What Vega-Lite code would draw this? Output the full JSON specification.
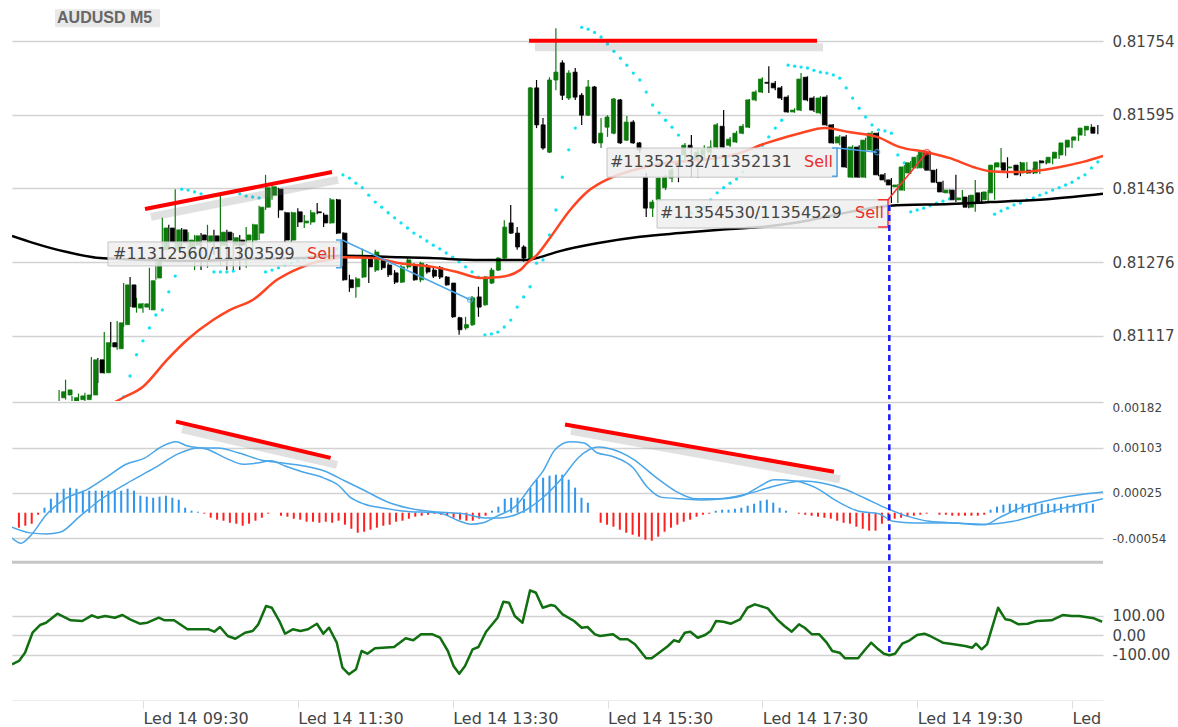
{
"$schema":"https://vega.github.io/schema/vega-lite/v6.json",
"background":"white",
"padding":{"left":12,"top":0,"right":0,"bottom":0},
"spacing":0,
"config":{"view":{"stroke":null},"font":"DejaVu Sans","axis":{"labelFont":"DejaVu Sans","labelColor":"#444444","gridColor":"#d2d2d2","gridWidth":1.5,"domain":false,"ticks":false}},
"datasets":{
"candles":[
{"m":505,"o":0.80983,"h":0.81,"l":0.80976,"c":0.80996},{"m":510,"o":0.80989,"h":0.81022,"l":0.80979,"c":0.81},{"m":515,"o":0.80974,"h":0.80987,"l":0.8097,"c":0.80983},{"m":520,"o":0.80979,"h":0.80992,"l":0.80972,"c":0.80987},{"m":525,"o":0.80979,"h":0.80994,"l":0.80974,"c":0.80989},{"m":530,"o":0.80989,"h":0.81071,"l":0.80985,"c":0.81065},{"m":535,"o":0.81065,"h":0.81069,"l":0.81015,"c":0.81037},{"m":540,"o":0.81037,"h":0.81125,"l":0.81035,"c":0.81102},{"m":545,"o":0.81102,"h":0.81147,"l":0.81093,"c":0.81093},{"m":550,"o":0.81089,"h":0.81149,"l":0.81087,"c":0.81145},
{"m":555,"o":0.81141,"h":0.81231,"l":0.81136,"c":0.81227},{"m":560,"o":0.81227,"h":0.81244,"l":0.81179,"c":0.81179},{"m":565,"o":0.81177,"h":0.81199,"l":0.81167,"c":0.81186},{"m":570,"o":0.81179,"h":0.81188,"l":0.81167,"c":0.81186},{"m":575,"o":0.81173,"h":0.81264,"l":0.81173,"c":0.81236},{"m":580,"o":0.81242,"h":0.81292,"l":0.81238,"c":0.81285},{"m":585,"o":0.81303,"h":0.81372,"l":0.81298,"c":0.8135},{"m":590,"o":0.8135,"h":0.81357,"l":0.81303,"c":0.8132},{"m":595,"o":0.81303,"h":0.81434,"l":0.81298,"c":0.81346},{"m":600,"o":0.81346,"h":0.8135,"l":0.81303,"c":0.81318},
{"m":605,"o":0.81307,"h":0.81341,"l":0.81285,"c":0.81324},{"m":610,"o":0.81313,"h":0.81335,"l":0.81259,"c":0.81333},{"m":615,"o":0.81335,"h":0.81339,"l":0.81259,"c":0.81324},{"m":620,"o":0.81318,"h":0.81357,"l":0.81264,"c":0.81333},{"m":625,"o":0.81333,"h":0.81346,"l":0.81292,"c":0.8132},{"m":630,"o":0.81313,"h":0.81419,"l":0.8127,"c":0.81341},{"m":635,"o":0.81341,"h":0.81346,"l":0.81259,"c":0.81324},{"m":640,"o":0.81313,"h":0.81339,"l":0.81259,"c":0.81329},{"m":645,"o":0.81324,"h":0.81335,"l":0.81259,"c":0.81313},{"m":650,"o":0.81324,"h":0.81352,"l":0.81264,"c":0.81335},
{"m":655,"o":0.81324,"h":0.81359,"l":0.81292,"c":0.81357},{"m":660,"o":0.81339,"h":0.81398,"l":0.81324,"c":0.81395},{"m":665,"o":0.81395,"h":0.81465,"l":0.81389,"c":0.81437},{"m":670,"o":0.81421,"h":0.81443,"l":0.81411,"c":0.81439},{"m":675,"o":0.81434,"h":0.81437,"l":0.81372,"c":0.81389},{"m":680,"o":0.81383,"h":0.81385,"l":0.8132,"c":0.81324},{"m":685,"o":0.81324,"h":0.81385,"l":0.8132,"c":0.81383},{"m":690,"o":0.81385,"h":0.81393,"l":0.81352,"c":0.81363},{"m":695,"o":0.81361,"h":0.81378,"l":0.8135,"c":0.81365},{"m":700,"o":0.81363,"h":0.81389,"l":0.81357,"c":0.81383},
{"m":705,"o":0.81385,"h":0.81404,"l":0.8138,"c":0.81383},{"m":710,"o":0.81378,"h":0.81383,"l":0.81352,"c":0.81361},{"m":715,"o":0.81361,"h":0.81415,"l":0.81359,"c":0.81411},{"m":720,"o":0.81411,"h":0.81413,"l":0.81337,"c":0.81339},{"m":725,"o":0.81339,"h":0.81341,"l":0.81236,"c":0.81238},{"m":730,"o":0.81238,"h":0.81249,"l":0.81212,"c":0.81221},{"m":735,"o":0.81223,"h":0.81244,"l":0.81199,"c":0.8124},{"m":740,"o":0.81244,"h":0.81305,"l":0.81242,"c":0.81285},{"m":745,"o":0.81285,"h":0.81287,"l":0.81231,"c":0.81266},{"m":750,"o":0.81259,"h":0.81303,"l":0.81255,"c":0.81298},
{"m":755,"o":0.81281,"h":0.81287,"l":0.81259,"c":0.81264},{"m":760,"o":0.8127,"h":0.81274,"l":0.81244,"c":0.81249},{"m":765,"o":0.81253,"h":0.81259,"l":0.81229,"c":0.81233},{"m":770,"o":0.81233,"h":0.8127,"l":0.81231,"c":0.81266},{"m":775,"o":0.81266,"h":0.81285,"l":0.81262,"c":0.81281},{"m":780,"o":0.8127,"h":0.81274,"l":0.81236,"c":0.81238},{"m":785,"o":0.81238,"h":0.81277,"l":0.81233,"c":0.81274},{"m":790,"o":0.81268,"h":0.81272,"l":0.81251,"c":0.81255},{"m":795,"o":0.81259,"h":0.81264,"l":0.81242,"c":0.81246},{"m":800,"o":0.81264,"h":0.81268,"l":0.8124,"c":0.81244},
{"m":805,"o":0.81244,"h":0.81246,"l":0.81225,"c":0.81227},{"m":810,"o":0.81231,"h":0.81231,"l":0.81156,"c":0.81158},{"m":815,"o":0.81156,"h":0.81158,"l":0.81119,"c":0.8113},{"m":820,"o":0.81134,"h":0.81158,"l":0.8113,"c":0.81141},{"m":825,"o":0.81141,"h":0.81203,"l":0.81138,"c":0.81199},{"m":830,"o":0.81201,"h":0.81223,"l":0.81158,"c":0.81179},{"m":835,"o":0.81184,"h":0.81246,"l":0.81182,"c":0.81244},{"m":840,"o":0.81231,"h":0.81264,"l":0.81229,"c":0.81259},{"m":845,"o":0.81259,"h":0.81287,"l":0.81257,"c":0.81285},{"m":850,"o":0.81285,"h":0.81367,"l":0.81283,"c":0.81352},
{"m":855,"o":0.81361,"h":0.814,"l":0.81337,"c":0.81339},{"m":860,"o":0.81339,"h":0.81352,"l":0.81303,"c":0.81309},{"m":865,"o":0.81309,"h":0.81313,"l":0.81277,"c":0.81285},{"m":870,"o":0.81281,"h":0.81655,"l":0.81279,"c":0.81653},{"m":875,"o":0.81653,"h":0.8167,"l":0.81566,"c":0.81573},{"m":880,"o":0.81573,"h":0.81588,"l":0.81519,"c":0.81523},{"m":885,"o":0.81514,"h":0.81676,"l":0.81512,"c":0.8167},{"m":890,"o":0.8167,"h":0.81782,"l":0.81648,"c":0.81687},{"m":895,"o":0.81707,"h":0.81713,"l":0.81627,"c":0.81637},{"m":900,"o":0.81631,"h":0.81691,"l":0.81627,"c":0.81685},
{"m":905,"o":0.81687,"h":0.81696,"l":0.81627,"c":0.81633},{"m":910,"o":0.81637,"h":0.81642,"l":0.81573,"c":0.81594},{"m":915,"o":0.81594,"h":0.8167,"l":0.81592,"c":0.81655},{"m":920,"o":0.81655,"h":0.81657,"l":0.81532,"c":0.81534},{"m":925,"o":0.81534,"h":0.81588,"l":0.81523,"c":0.81555},{"m":930,"o":0.81568,"h":0.81594,"l":0.81547,"c":0.8159},{"m":935,"o":0.81555,"h":0.81631,"l":0.81553,"c":0.81629},{"m":940,"o":0.81627,"h":0.81629,"l":0.81532,"c":0.81534},{"m":945,"o":0.8154,"h":0.81592,"l":0.81538,"c":0.81579},{"m":950,"o":0.81579,"h":0.81583,"l":0.81532,"c":0.81534},
{"m":955,"o":0.81534,"h":0.81536,"l":0.81512,"c":0.81519},{"m":960,"o":0.8146,"h":0.81469,"l":0.81374,"c":0.81393},{"m":965,"o":0.81393,"h":0.81411,"l":0.81374,"c":0.81406},{"m":970,"o":0.81411,"h":0.8146,"l":0.81408,"c":0.81458},{"m":975,"o":0.81437,"h":0.81465,"l":0.81432,"c":0.8146},{"m":980,"o":0.81458,"h":0.8148,"l":0.81449,"c":0.81475},{"m":985,"o":0.81491,"h":0.81497,"l":0.81449,"c":0.81486},{"m":990,"o":0.81508,"h":0.81534,"l":0.81493,"c":0.81529},{"m":995,"o":0.81529,"h":0.81551,"l":0.8146,"c":0.81523},{"m":1000,"o":0.81497,"h":0.81523,"l":0.81458,"c":0.81514},
{"m":1005,"o":0.81508,"h":0.81529,"l":0.81497,"c":0.81519},{"m":1010,"o":0.81514,"h":0.8154,"l":0.81508,"c":0.81525},{"m":1015,"o":0.81525,"h":0.81577,"l":0.81523,"c":0.81573},{"m":1020,"o":0.8157,"h":0.81605,"l":0.81523,"c":0.81525},{"m":1025,"o":0.81529,"h":0.81547,"l":0.81525,"c":0.81542},{"m":1030,"o":0.81536,"h":0.8156,"l":0.81534,"c":0.81555},{"m":1035,"o":0.81555,"h":0.81575,"l":0.81553,"c":0.8157},{"m":1040,"o":0.81568,"h":0.81629,"l":0.81566,"c":0.81627},{"m":1045,"o":0.81627,"h":0.81648,"l":0.81624,"c":0.81644},{"m":1050,"o":0.81644,"h":0.81676,"l":0.81642,"c":0.81672},
{"m":1055,"o":0.81665,"h":0.817,"l":0.81642,"c":0.81663},{"m":1060,"o":0.81663,"h":0.81668,"l":0.81648,"c":0.81653},{"m":1065,"o":0.81653,"h":0.81657,"l":0.81627,"c":0.81631},{"m":1070,"o":0.81633,"h":0.81637,"l":0.81599,"c":0.81601},{"m":1075,"o":0.81601,"h":0.81609,"l":0.81599,"c":0.81605},{"m":1080,"o":0.81605,"h":0.81685,"l":0.81603,"c":0.81672},{"m":1085,"o":0.81676,"h":0.81678,"l":0.81624,"c":0.81627},{"m":1090,"o":0.81631,"h":0.81635,"l":0.81601,"c":0.81605},{"m":1095,"o":0.81599,"h":0.81635,"l":0.81596,"c":0.81631},{"m":1100,"o":0.81633,"h":0.81637,"l":0.8157,"c":0.81573},
{"m":1105,"o":0.81573,"h":0.81575,"l":0.81532,"c":0.81534},{"m":1110,"o":0.81534,"h":0.81551,"l":0.81529,"c":0.81547},{"m":1115,"o":0.81547,"h":0.81551,"l":0.8148,"c":0.81482},{"m":1120,"o":0.8146,"h":0.81529,"l":0.81458,"c":0.81525},{"m":1125,"o":0.81525,"h":0.81529,"l":0.81458,"c":0.8146},{"m":1130,"o":0.8146,"h":0.81545,"l":0.81458,"c":0.8154},{"m":1135,"o":0.81519,"h":0.8156,"l":0.81516,"c":0.81555},{"m":1140,"o":0.81555,"h":0.81557,"l":0.81462,"c":0.81465},{"m":1145,"o":0.81465,"h":0.81469,"l":0.81449,"c":0.81454},{"m":1150,"o":0.81454,"h":0.81458,"l":0.81404,"c":0.81443},
{"m":1155,"o":0.81439,"h":0.81445,"l":0.81404,"c":0.81443},{"m":1160,"o":0.81432,"h":0.81486,"l":0.8143,"c":0.81482},{"m":1165,"o":0.81469,"h":0.81495,"l":0.81467,"c":0.81491},{"m":1170,"o":0.8148,"h":0.81508,"l":0.81478,"c":0.81503},{"m":1175,"o":0.8148,"h":0.81519,"l":0.81478,"c":0.81514},{"m":1180,"o":0.81514,"h":0.81516,"l":0.81473,"c":0.81475},{"m":1185,"o":0.81475,"h":0.81478,"l":0.81447,"c":0.81449},{"m":1190,"o":0.81449,"h":0.81452,"l":0.81426,"c":0.81428},{"m":1195,"o":0.81426,"h":0.81434,"l":0.81424,"c":0.81432},{"m":1200,"o":0.81432,"h":0.81465,"l":0.81406,"c":0.81411},
{"m":1205,"o":0.81411,"h":0.81432,"l":0.81402,"c":0.81415},{"m":1210,"o":0.81417,"h":0.81421,"l":0.81393,"c":0.81395},{"m":1215,"o":0.81395,"h":0.81454,"l":0.81385,"c":0.81421},{"m":1220,"o":0.81426,"h":0.81428,"l":0.81402,"c":0.81404},{"m":1225,"o":0.81411,"h":0.81432,"l":0.81408,"c":0.81428},{"m":1230,"o":0.81426,"h":0.81491,"l":0.81411,"c":0.81486},{"m":1235,"o":0.81482,"h":0.81523,"l":0.8148,"c":0.81491},{"m":1240,"o":0.81491,"h":0.81503,"l":0.81458,"c":0.81475},{"m":1245,"o":0.8148,"h":0.81486,"l":0.81475,"c":0.81482},{"m":1250,"o":0.81486,"h":0.81493,"l":0.81462,"c":0.81465},
{"m":1255,"o":0.81469,"h":0.81493,"l":0.81467,"c":0.81491},{"m":1260,"o":0.81475,"h":0.8148,"l":0.81467,"c":0.81469},{"m":1265,"o":0.81469,"h":0.81497,"l":0.81467,"c":0.81493},{"m":1270,"o":0.81495,"h":0.81497,"l":0.81488,"c":0.81491},{"m":1275,"o":0.81491,"h":0.81508,"l":0.81488,"c":0.81503},{"m":1280,"o":0.81501,"h":0.81519,"l":0.81499,"c":0.81514},{"m":1285,"o":0.81508,"h":0.81538,"l":0.81506,"c":0.81534},{"m":1290,"o":0.81525,"h":0.81545,"l":0.81523,"c":0.8154},{"m":1295,"o":0.8154,"h":0.81551,"l":0.81538,"c":0.81547},{"m":1300,"o":0.81551,"h":0.8157,"l":0.81549,"c":0.81566},
{"m":1305,"o":0.81562,"h":0.81575,"l":0.8156,"c":0.8157},{"m":1310,"o":0.81568,"h":0.81573,"l":0.81553,"c":0.81555}
],
"sar":[
{"m":555,"s":0.80985},{"m":560,"s":0.8103},{"m":565,"s":0.81076},{"m":570,"s":0.81106},{"m":575,"s":0.81134},{"m":580,"s":0.81162},{"m":585,"s":0.81173},{"m":590,"s":0.81212},{"m":595,"s":0.81246},
{"m":600,"s":0.81434},{"m":605,"s":0.81432},{"m":610,"s":0.81428},{"m":615,"s":0.81424},{"m":620,"s":0.81417},
{"m":625,"s":0.81255},{"m":630,"s":0.81255},{"m":635,"s":0.81255},{"m":640,"s":0.81257},
{"m":645,"s":0.81424},{"m":650,"s":0.81419},{"m":655,"s":0.81417},{"m":660,"s":0.81415},
{"m":665,"s":0.81255},{"m":670,"s":0.81259},{"m":675,"s":0.81264},{"m":680,"s":0.8127},{"m":685,"s":0.81274},{"m":690,"s":0.81279},{"m":695,"s":0.81283},{"m":700,"s":0.81287},{"m":705,"s":0.81292},{"m":710,"s":0.81296},{"m":715,"s":0.813},{"m":720,"s":0.81305},
{"m":725,"s":0.81465},{"m":730,"s":0.81458},{"m":735,"s":0.81447},{"m":740,"s":0.81437},{"m":745,"s":0.81421},{"m":750,"s":0.81406},{"m":755,"s":0.81395},{"m":760,"s":0.81383},{"m":765,"s":0.81372},{"m":770,"s":0.81361},{"m":775,"s":0.8135},{"m":780,"s":0.81339},{"m":785,"s":0.81331},{"m":790,"s":0.81322},{"m":795,"s":0.81313},{"m":800,"s":0.81305},{"m":805,"s":0.81296},{"m":810,"s":0.81287},{"m":815,"s":0.81277},{"m":820,"s":0.81266},{"m":825,"s":0.81255},{"m":830,"s":0.81244},
{"m":835,"s":0.81119},{"m":840,"s":0.81121},{"m":845,"s":0.81125},{"m":850,"s":0.81136},{"m":855,"s":0.81151},{"m":860,"s":0.81179},{"m":865,"s":0.81201},{"m":870,"s":0.81223},{"m":875,"s":0.81274},{"m":880,"s":0.81281},{"m":885,"s":0.81335},{"m":890,"s":0.81389},{"m":895,"s":0.8146},{"m":900,"s":0.81519},{"m":905,"s":0.81566},
{"m":910,"s":0.81784},{"m":915,"s":0.8178},{"m":920,"s":0.81773},{"m":925,"s":0.81763},{"m":930,"s":0.81748},{"m":935,"s":0.81732},{"m":940,"s":0.81717},{"m":945,"s":0.81702},{"m":950,"s":0.81685},{"m":955,"s":0.8167},{"m":960,"s":0.81644},{"m":965,"s":0.81616},{"m":970,"s":0.81599},{"m":975,"s":0.81583},{"m":980,"s":0.81568},{"m":985,"s":0.81551},
{"m":990,"s":0.81374},{"m":995,"s":0.81383},{"m":1000,"s":0.81389},{"m":1005,"s":0.81395},{"m":1010,"s":0.81411},{"m":1015,"s":0.81426},{"m":1020,"s":0.81437},{"m":1025,"s":0.81447},{"m":1030,"s":0.81456},{"m":1035,"s":0.81471},{"m":1040,"s":0.81491},{"m":1045,"s":0.81508},{"m":1050,"s":0.81529},{"m":1055,"s":0.81547},{"m":1060,"s":0.81566},{"m":1065,"s":0.81583},
{"m":1070,"s":0.81702},{"m":1075,"s":0.817},{"m":1080,"s":0.81698},{"m":1085,"s":0.81696},{"m":1090,"s":0.81691},{"m":1095,"s":0.81687},{"m":1100,"s":0.81685},{"m":1105,"s":0.81681},{"m":1110,"s":0.81674},{"m":1115,"s":0.81653},{"m":1120,"s":0.81631},{"m":1125,"s":0.81609},{"m":1130,"s":0.8159},{"m":1135,"s":0.81573},{"m":1140,"s":0.81562},{"m":1145,"s":0.8156},{"m":1150,"s":0.81555},{"m":1155,"s":0.81508},{"m":1160,"s":0.81491},
{"m":1165,"s":0.81385},{"m":1170,"s":0.81389},{"m":1175,"s":0.81393},{"m":1180,"s":0.81398},{"m":1185,"s":0.81404},{"m":1190,"s":0.81408},{"m":1195,"s":0.81413},
{"m":1230,"s":0.8138},{"m":1235,"s":0.81387},{"m":1240,"s":0.81393},{"m":1245,"s":0.814},{"m":1250,"s":0.81404},{"m":1255,"s":0.81411},{"m":1260,"s":0.81415},{"m":1265,"s":0.81421},{"m":1270,"s":0.81426},{"m":1275,"s":0.81432},{"m":1280,"s":0.81437},{"m":1285,"s":0.81443},{"m":1290,"s":0.81449},{"m":1295,"s":0.81458},{"m":1300,"s":0.81465},{"m":1305,"s":0.8148},{"m":1310,"s":0.81493}
],
"maB":[{"m":468.5,"p":0.81333},{"m":484.8,"p":0.81318},{"m":511.1,"p":0.81298},{"m":536.7,"p":0.81285},{"m":575.5,"p":0.81281},{"m":614.2,"p":0.81279},{"m":653,"p":0.81283},{"m":691.7,"p":0.81285},{"m":725,"p":0.8129},{"m":769.2,"p":0.81287},{"m":792.5,"p":0.81285},{"m":831.2,"p":0.81281},{"m":867.6,"p":0.81281},{"m":877.7,"p":0.81287},{"m":893.2,"p":0.813},{"m":924.2,"p":0.81318},{"m":955.2,"p":0.81331},{"m":986.2,"p":0.81339},{"m":1017.2,"p":0.81346},{"m":1048.2,"p":0.81352},{"m":1079.2,"p":0.81363},{"m":1102.5,"p":0.81376},{"m":1125.7,"p":0.81389},{"m":1149,"p":0.81398},{"m":1195.5,"p":0.81402},{"m":1226.5,"p":0.81406},{"m":1273,"p":0.81413},{"m":1314,"p":0.81424}],
"maR":[{"m":544.5,"p":0.80968},{"m":554.5,"p":0.80983},{"m":570,"p":0.81007},{"m":588.6,"p":0.81065},{"m":604.1,"p":0.81108},{"m":624.3,"p":0.81151},{"m":637.5,"p":0.81173},{"m":655.3,"p":0.81195},{"m":673.9,"p":0.81238},{"m":691.7,"p":0.81264},{"m":704.9,"p":0.81277},{"m":717.3,"p":0.81283},{"m":725,"p":0.81287},{"m":748.3,"p":0.81285},{"m":769.2,"p":0.81274},{"m":794.8,"p":0.81266},{"m":813.4,"p":0.81255},{"m":831.2,"p":0.81242},{"m":846.7,"p":0.81244},{"m":862.2,"p":0.81259},{"m":867.6,"p":0.81274},{"m":875.4,"p":0.81292},{"m":885.5,"p":0.81329},{"m":901,"p":0.81389},{"m":914.1,"p":0.81428},{"m":932,"p":0.81458},{"m":949.8,"p":0.81475},{"m":976.1,"p":0.81491},{"m":1001.7,"p":0.81497},{"m":1027.3,"p":0.81508},{"m":1053.6,"p":0.81534},{"m":1079.2,"p":0.81555},{"m":1098.6,"p":0.81566},{"m":1118,"p":0.81557},{"m":1138.9,"p":0.81547},{"m":1156.7,"p":0.81525},{"m":1177.6,"p":0.81514},{"m":1195.5,"p":0.81501},{"m":1213.3,"p":0.81482},{"m":1226.5,"p":0.81473},{"m":1247.4,"p":0.81471},{"m":1259.8,"p":0.81473},{"m":1280.7,"p":0.81482},{"m":1298.5,"p":0.81493},{"m":1314,"p":0.81506}],
"ptrend":[{"id":"t1","m":571.6,"p":0.81391},{"id":"t1","m":716.5,"p":0.81471},{"id":"t2","m":869.2,"p":0.81755},{"id":"t2","m":1092.4,"p":0.81755}],
"ptrendShadow":[{"id":"s1","m":576.2,"p":0.81374},{"id":"s1","m":721.2,"p":0.81454},{"id":"s2","m":873.8,"p":0.81741},{"id":"s2","m":1097,"p":0.81741}],
"title":[{"m1":501.8,"m2":583.2,"p1":0.81784,"p2":0.81823,"m":503.4,"p":0.81804,"t":"AUDUSD M5"}],
"boxes":[{"m1":542.9,"m2":724.3,"p1":0.81268,"p2":0.8132},{"m1":929.6,"m2":1107.9,"p1":0.8146,"p2":0.81523},{"m1":968.4,"m2":1148.9,"p1":0.8135,"p2":0.81411}],
"labels":[{"m":546.8,"p":0.81294,"t":"#11312560/11303599"},{"m":697.1,"p":0.81294,"t":"Sell"},{"m":931.9,"p":0.81493,"t":"#11352132/11352131"},{"m":1082.3,"p":0.81493,"t":"Sell"},{"m":970.7,"p":0.81383,"t":"#11354530/11354529"},{"m":1121.8,"p":0.81383,"t":"Sell"}],
"trades":[
{"id":"b1k","o":1,"m":719.6,"p":0.81324},{"id":"b1k","o":2,"m":723.5,"p":0.81324},{"id":"b1k","o":3,"m":723.5,"p":0.81264},{"id":"b1k","o":4,"m":719.6,"p":0.81264},
{"id":"b1","o":1,"m":724.3,"p":0.81324},{"id":"b1","o":2,"m":823.5,"p":0.81195},
{"id":"b2k","o":1,"m":1104,"p":0.81523},{"id":"b2k","o":2,"m":1107.9,"p":0.81523},{"id":"b2k","o":3,"m":1107.9,"p":0.81462},{"id":"b2k","o":4,"m":1104,"p":0.81462},
{"id":"b2","o":1,"m":1107.9,"p":0.81523},{"id":"b2","o":2,"m":1138.9,"p":0.81514},
{"id":"r3k","o":1,"m":1139.7,"p":0.81411},{"id":"r3k","o":2,"m":1147.4,"p":0.81411},{"id":"r3k","o":3,"m":1147.4,"p":0.81352},{"id":"r3k","o":4,"m":1139.7,"p":0.81352},
{"id":"r3","o":1,"m":1147.4,"p":0.81411},{"id":"r3","o":2,"m":1177.6,"p":0.81514}],
"tradeEnds":[{"id":"b1","m":823.5,"p":0.81195},{"id":"b2","m":1138.9,"p":0.81514},{"id":"r3","m":1177.6,"p":0.81514}],
"vline":[{"m":1148.4,"p1":0.814,"p2":0.8098,"v1":0.00178,"v2":-0.00095,"c1":356,"c2":-102.6,"sep":-0.00096}],
"hist":[
{"m":470,"h":-0.00026},{"m":475,"h":-0.000226},{"m":480,"h":-0.000191},{"m":485,"h":-0.000035},{"m":490,"h":0.000087},{"m":495,"h":0.000243},{"m":500,"h":0.000347},{"m":505,"h":0.000416},{"m":510,"h":0.000434},{"m":515,"h":0.000416},{"m":520,"h":0.000382},{"m":525,"h":0.000382},{"m":530,"h":0.000382},{"m":535,"h":0.000382},{"m":540,"h":0.000382},{"m":545,"h":0.000382},{"m":550,"h":0.000382},{"m":555,"h":0.000416},{"m":560,"h":0.000382},{"m":565,"h":0.000295},{"m":570,"h":0.000278},{"m":575,"h":0.00026},{"m":580,"h":0.000278},{"m":585,"h":0.000295},{"m":590,"h":0.00026},{"m":595,"h":0.000226},{"m":600,"h":0.000087},{"m":605,"h":0.000035},{"m":610,"h":0.000017},
{"m":615,"h":-0.000017},{"m":620,"h":-0.000087},{"m":625,"h":-0.000121},{"m":630,"h":-0.000139},{"m":635,"h":-0.000174},{"m":640,"h":-0.000191},{"m":645,"h":-0.000226},{"m":650,"h":-0.000191},{"m":655,"h":-0.000139},{"m":660,"h":-0.000087},{"m":665,"h":-0.000017},{"m":670,"h":0},{"m":675,"h":-0.000052},{"m":680,"h":-0.000069},{"m":685,"h":-0.000104},{"m":690,"h":-0.000121},{"m":695,"h":-0.000156},{"m":700,"h":-0.000156},{"m":705,"h":-0.000174},{"m":710,"h":-0.000156},{"m":715,"h":-0.000174},{"m":720,"h":-0.000139},{"m":725,"h":-0.000208},{"m":730,"h":-0.000278},{"m":735,"h":-0.000347},{"m":740,"h":-0.00033},{"m":745,"h":-0.000295},{"m":750,"h":-0.00026},{"m":755,"h":-0.000226},{"m":760,"h":-0.000208},{"m":765,"h":-0.000156},{"m":770,"h":-0.000139},{"m":775,"h":-0.000104},{"m":780,"h":-0.000069},{"m":785,"h":-0.000052},{"m":790,"h":-0.000035},{"m":795,"h":-0.000017},{"m":800,"h":-0.000035},{"m":805,"h":-0.000052},{"m":810,"h":-0.000087},{"m":815,"h":-0.000121},{"m":820,"h":-0.000139},{"m":825,"h":-0.000139},{"m":830,"h":-0.000104},{"m":835,"h":-0.000052},
{"m":840,"h":0.000035},{"m":845,"h":0.000104},{"m":850,"h":0.000243},{"m":855,"h":0.00026},{"m":860,"h":0.00026},{"m":865,"h":0.000243},{"m":870,"h":0.000434},{"m":875,"h":0.000573},{"m":880,"h":0.000607},{"m":885,"h":0.000642},{"m":890,"h":0.000659},{"m":895,"h":0.000659},{"m":900,"h":0.000573},{"m":905,"h":0.000434},{"m":910,"h":0.00026},{"m":915,"h":0.000174},{"m":920,"h":0},
{"m":925,"h":-0.000174},{"m":930,"h":-0.000208},{"m":935,"h":-0.000243},{"m":940,"h":-0.000295},{"m":945,"h":-0.000347},{"m":950,"h":-0.000382},{"m":955,"h":-0.000416},{"m":960,"h":-0.000468},{"m":965,"h":-0.000486},{"m":970,"h":-0.000416},{"m":975,"h":-0.00033},{"m":980,"h":-0.00026},{"m":985,"h":-0.000208},{"m":990,"h":-0.000156},{"m":995,"h":-0.000121},{"m":1000,"h":-0.000069},{"m":1005,"h":-0.000035},{"m":1010,"h":-0.000017},
{"m":1015,"h":0.000035},{"m":1020,"h":0.000052},{"m":1025,"h":0.000052},{"m":1030,"h":0.000069},{"m":1035,"h":0.000087},{"m":1040,"h":0.000121},{"m":1045,"h":0.000156},{"m":1050,"h":0.000208},{"m":1055,"h":0.000226},{"m":1060,"h":0.000174},{"m":1065,"h":0.000087},{"m":1070,"h":0.000035},{"m":1075,"h":0},
{"m":1080,"h":-0.000017},{"m":1085,"h":-0.000035},{"m":1090,"h":-0.000052},{"m":1095,"h":-0.000069},{"m":1100,"h":-0.000087},{"m":1105,"h":-0.000104},{"m":1110,"h":-0.000139},{"m":1115,"h":-0.000174},{"m":1120,"h":-0.000191},{"m":1125,"h":-0.000243},{"m":1130,"h":-0.000278},{"m":1135,"h":-0.000312},{"m":1140,"h":-0.000312},{"m":1145,"h":-0.000191},{"m":1150,"h":-0.000139},{"m":1155,"h":-0.000104},{"m":1160,"h":-0.000087},{"m":1165,"h":-0.000069},{"m":1170,"h":-0.000052},{"m":1175,"h":-0.000035},{"m":1180,"h":-0.000017},{"m":1185,"h":0},{"m":1190,"h":-0.000035},{"m":1195,"h":-0.000035},{"m":1200,"h":-0.000052},{"m":1205,"h":-0.000052},{"m":1210,"h":-0.000052},{"m":1215,"h":-0.000052},{"m":1220,"h":-0.000052},{"m":1225,"h":-0.000035},
{"m":1230,"h":0.000052},{"m":1235,"h":0.000104},{"m":1240,"h":0.000139},{"m":1245,"h":0.000156},{"m":1250,"h":0.000156},{"m":1255,"h":0.000156},{"m":1260,"h":0.000156},{"m":1265,"h":0.000156},{"m":1270,"h":0.000156},{"m":1275,"h":0.000156},{"m":1280,"h":0.000156},{"m":1285,"h":0.000156},{"m":1290,"h":0.000156},{"m":1295,"h":0.000156},{"m":1300,"h":0.000156},{"m":1305,"h":0.000156},{"m":1310,"h":0.000156}
],
"macd":[
{"k":"MACD","m":468.5,"v":-0.00054},{"k":"MACD","m":475.5,"v":-0.00063},{"k":"MACD","m":483.2,"v":-0.00049},{"k":"MACD","m":494.9,"v":-0.00014},{"k":"MACD","m":509.6,"v":0.00014},{"k":"MACD","m":527.4,"v":0.00031},{"k":"MACD","m":542.1,"v":0.00052},{"k":"MACD","m":556.9,"v":0.00074},{"k":"MACD","m":571.6,"v":0.00085},{"k":"MACD","m":584,"v":0.00104},{"k":"MACD","m":595.6,"v":0.00113},{"k":"MACD","m":604.1,"v":0.00106},{"k":"MACD","m":619.6,"v":0.001},{"k":"MACD","m":635.9,"v":0.00083},{"k":"MACD","m":647.5,"v":0.00074},{"k":"MACD","m":658.4,"v":0.00076},{"k":"MACD","m":669.2,"v":0.0008},{"k":"MACD","m":680.1,"v":0.00071},{"k":"MACD","m":693.3,"v":0.00061},{"k":"MACD","m":710.3,"v":0.0005},{"k":"MACD","m":721.2,"v":0.00038},{"k":"MACD","m":730.5,"v":0.00017},{"k":"MACD","m":741.3,"v":0.00005},{"k":"MACD","m":756,"v":-0.00002},{"k":"MACD","m":770.8,"v":-0.00007},{"k":"MACD","m":800.2,"v":-0.00011},{"k":"MACD","m":815.7,"v":-0.00025},{"k":"MACD","m":824.2,"v":-0.0003},{"k":"MACD","m":832.8,"v":-0.00028},{"k":"MACD","m":844.4,"v":-0.00016},{"k":"MACD","m":859.1,"v":0.00002},{"k":"MACD","m":871.5,"v":0.00038},{"k":"MACD","m":880,"v":0.00062},{"k":"MACD","m":889.3,"v":0.00099},{"k":"MACD","m":901,"v":0.00113},{"k":"MACD","m":911.8,"v":0.00111},{"k":"MACD","m":921.9,"v":0.00094},{"k":"MACD","m":933.5,"v":0.00088},{"k":"MACD","m":949.8,"v":0.00068},{"k":"MACD","m":960.6,"v":0.00035},{"k":"MACD","m":971.5,"v":0.00017},{"k":"MACD","m":987.8,"v":0.00014},{"k":"MACD","m":1004,"v":0.00012},{"k":"MACD","m":1020.3,"v":0.00014},{"k":"MACD","m":1037.4,"v":0.00022},{"k":"MACD","m":1048.2,"v":0.00036},{"k":"MACD","m":1059.1,"v":0.00047},{"k":"MACD","m":1075.3,"v":0.00045},{"k":"MACD","m":1091.6,"v":0.00033},{"k":"MACD","m":1107.9,"v":0.0001},{"k":"MACD","m":1124.1,"v":-0.00007},{"k":"MACD","m":1140.4,"v":-0.00012},{"k":"MACD","m":1151.3,"v":-0.00025},{"k":"MACD","m":1167.6,"v":-0.00028},{"k":"MACD","m":1195.5,"v":-0.00028},{"k":"MACD","m":1222.6,"v":-0.00031},{"k":"MACD","m":1233.4,"v":-0.00019},{"k":"MACD","m":1249.7,"v":-0.00002},{"k":"MACD","m":1276.8,"v":0.00014},{"k":"MACD","m":1298.5,"v":0.00022},{"k":"MACD","m":1314,"v":0.00026},
{"k":"Signal","m":468.5,"v":-0.00035},{"k":"Signal","m":482.5,"v":-0.00045},{"k":"Signal","m":494.9,"v":-0.00047},{"k":"Signal","m":505.7,"v":-0.00044},{"k":"Signal","m":521.2,"v":-0.00016},{"k":"Signal","m":536.7,"v":0.00012},{"k":"Signal","m":557.6,"v":0.00041},{"k":"Signal","m":579.3,"v":0.00068},{"k":"Signal","m":597.2,"v":0.00092},{"k":"Signal","m":612.7,"v":0.00102},{"k":"Signal","m":628.2,"v":0.00102},{"k":"Signal","m":643.7,"v":0.00094},{"k":"Signal","m":662.3,"v":0.00081},{"k":"Signal","m":678.5,"v":0.00076},{"k":"Signal","m":694.8,"v":0.00071},{"k":"Signal","m":711.1,"v":0.00062},{"k":"Signal","m":726.6,"v":0.00045},{"k":"Signal","m":742.1,"v":0.00028},{"k":"Signal","m":759.1,"v":0.00009},{"k":"Signal","m":775.4,"v":-0.00002},{"k":"Signal","m":798.7,"v":-0.00009},{"k":"Signal","m":818.8,"v":-0.00012},{"k":"Signal","m":835.1,"v":-0.00019},{"k":"Signal","m":846.7,"v":-0.00019},{"k":"Signal","m":865.3,"v":-0.00007},{"k":"Signal","m":879.3,"v":0.00015},{"k":"Signal","m":895.5,"v":0.00052},{"k":"Signal","m":907.2,"v":0.00085},{"k":"Signal","m":922.7,"v":0.00104},{"k":"Signal","m":933.5,"v":0.001},{"k":"Signal","m":949.8,"v":0.00083},{"k":"Signal","m":966.1,"v":0.00054},{"k":"Signal","m":982.4,"v":0.00028},{"k":"Signal","m":998.6,"v":0.00014},{"k":"Signal","m":1015.7,"v":0.00014},{"k":"Signal","m":1037.4,"v":0.00022},{"k":"Signal","m":1059.1,"v":0.00036},{"k":"Signal","m":1080.8,"v":0.00045},{"k":"Signal","m":1097.1,"v":0.00041},{"k":"Signal","m":1113.4,"v":0.00031},{"k":"Signal","m":1129.6,"v":0.00015},{"k":"Signal","m":1145.9,"v":-0.00002},{"k":"Signal","m":1162.2,"v":-0.00016},{"k":"Signal","m":1179.3,"v":-0.00025},{"k":"Signal","m":1201,"v":-0.00028},{"k":"Signal","m":1222.6,"v":-0.0003},{"k":"Signal","m":1244.3,"v":-0.00025},{"k":"Signal","m":1266,"v":-0.00012},{"k":"Signal","m":1287.7,"v":0},{"k":"Signal","m":1314,"v":0.00014}
],
"mtrend":[{"id":"t1","m":595.6,"v":0.00148},{"id":"t1","m":715.4,"v":0.00085},{"id":"t2","m":897.1,"v":0.00143},{"id":"t2","m":1105.5,"v":0.00061}],
"mtrendShadow":[{"id":"s1","m":600.3,"v":0.00135},{"id":"s1","m":720.4,"v":0.00073},{"id":"s2","m":901.7,"v":0.00132},{"id":"s2","m":1110.2,"v":0.00048}],
"cci":[
{"m":468.5,"v":-148.7},{"m":473.9,"v":-131.8},{"m":478.6,"v":-89.2},{"m":484.4,"v":13.3},{"m":490.2,"v":52.8},{"m":494.9,"v":64.6},{"m":503.7,"v":110.8},{"m":514.1,"v":76.9},{"m":523,"v":73.3},{"m":530.4,"v":102.6},{"m":534.8,"v":90.3},{"m":540.7,"v":99},{"m":548.2,"v":90.3},{"m":554.1,"v":104.1},{"m":560,"v":82.1},{"m":567.5,"v":59.5},{"m":573.4,"v":64.6},{"m":582.3,"v":90.3},{"m":586.8,"v":76.9},{"m":594.1,"v":76.9},{"m":604.5,"v":30.8},{"m":610.3,"v":30.8},{"m":620.9,"v":30.8},{"m":625.3,"v":18.5},{"m":629.7,"v":42.6},{"m":635.7,"v":-3.6},{"m":641.6,"v":-17.4},{"m":649.1,"v":13.3},{"m":655,"v":22.1},{"m":659.4,"v":56.4},{"m":665.4,"v":150.3},{"m":669.8,"v":141.5},{"m":675.7,"v":73.3},{"m":680.1,"v":8.2},{"m":686.1,"v":30.8},{"m":692,"v":22.1},{"m":697.9,"v":30.8},{"m":704.8,"v":59.5},{"m":709.8,"v":8.2},{"m":714.2,"v":39},{"m":720.2,"v":-37.9},{"m":724.6,"v":-166.2},{"m":729.7,"v":-200},{"m":735.1,"v":-174.4},{"m":739.4,"v":-80.5},{"m":743.9,"v":-94.4},{"m":749.8,"v":-66.7},{"m":755.8,"v":-63.6},{"m":764.6,"v":-60},{"m":773.6,"v":-15.4},{"m":779.5,"v":-25.6},{"m":785.5,"v":5.1},{"m":794.4,"v":5.1},{"m":800.2,"v":-12.3},{"m":806.3,"v":-80.5},{"m":810.7,"v":-157.4},{"m":815.1,"v":-196.9},{"m":819.6,"v":-157.4},{"m":825.5,"v":-71.8},{"m":830,"v":-60},{"m":835.9,"v":18.5},{"m":844.8,"v":90.3},{"m":849.3,"v":172.3},{"m":853.7,"v":167.2},{"m":858.1,"v":99},{"m":864.1,"v":64.6},{"m":870,"v":230.8},{"m":874.5,"v":218.5},{"m":879.8,"v":141.5},{"m":886.2,"v":155.4},{"m":889.3,"v":150.3},{"m":895.2,"v":107.7},{"m":904.1,"v":73.3},{"m":910,"v":39},{"m":914.5,"v":42.6},{"m":920.3,"v":5.1},{"m":924.2,"v":-3.6},{"m":929.9,"v":1.5},{"m":934.3,"v":5.1},{"m":939.7,"v":-20.5},{"m":945.6,"v":-20.5},{"m":951.3,"v":-46.2},{"m":959.9,"v":-117.9},{"m":964.2,"v":-117.9},{"m":970,"v":-89.2},{"m":976.9,"v":-54.9},{"m":981.4,"v":-25.6},{"m":985.4,"v":-32.8},{"m":989.9,"v":13.3},{"m":994.2,"v":18.5},{"m":999.9,"v":-12.3},{"m":1005.6,"v":1.5},{"m":1009.9,"v":22.1},{"m":1014.1,"v":73.3},{"m":1019.9,"v":69.7},{"m":1025.7,"v":59.5},{"m":1032.7,"v":82.1},{"m":1038.4,"v":141.5},{"m":1044.2,"v":159},{"m":1054.2,"v":138.5},{"m":1061.4,"v":82.1},{"m":1067.1,"v":47.7},{"m":1072.8,"v":18.5},{"m":1078.4,"v":56.4},{"m":1082.8,"v":39},{"m":1088.5,"v":5.1},{"m":1094.1,"v":5.1},{"m":1099.9,"v":-37.9},{"m":1104.2,"v":-80.5},{"m":1109.9,"v":-89.2},{"m":1114.1,"v":-117.9},{"m":1119.9,"v":-117.9},{"m":1124.2,"v":-117.9},{"m":1129.9,"v":-71.8},{"m":1134.3,"v":-37.9},{"m":1139.9,"v":-71.8},{"m":1144.2,"v":-94.4},{"m":1148.4,"v":-102.6},{"m":1152.8,"v":-94.4},{"m":1158.4,"v":-43.1},{"m":1164.2,"v":-25.6},{"m":1169.9,"v":1.5},{"m":1175.6,"v":8.2},{"m":1180,"v":-3.6},{"m":1189.9,"v":-37.9},{"m":1198.4,"v":-46.2},{"m":1207.1,"v":-54.9},{"m":1212.7,"v":-63.6},{"m":1215.6,"v":-43.1},{"m":1219.9,"v":-71.8},{"m":1224.1,"v":-46.2},{"m":1228.4,"v":47.7},{"m":1232.7,"v":141.5},{"m":1238.4,"v":82.1},{"m":1242.7,"v":76.9},{"m":1248.5,"v":56.4},{"m":1255.6,"v":59.5},{"m":1262.7,"v":73.3},{"m":1274.1,"v":76.9},{"m":1282.7,"v":104.1},{"m":1290,"v":99},{"m":1295.4,"v":99},{"m":1307,"v":87.2},{"m":1313.3,"v":69.7}
]
},
"vconcat":[
{
"width":1091,"height":401,
"resolve":{"scale":{"x":"independent","y":"independent"}},
"layer":[
{"data":{"name":"sar"},"mark":{"type":"point","filled":true,"size":11,"strokeWidth":0,"color":"#12e2f2","opacity":1,"clip":true},
 "encoding":{"x":{"field":"m","type":"quantitative","scale":{"domain":[468.5,1314],"nice":false,"zero":false},"axis":null,"title":null},
  "y":{"field":"s","type":"quantitative","scale":{"domain":[0.80976,0.81843],"nice":false,"zero":false},"title":null,
   "axis":{"orient":"right","values":[0.81117,0.81276,0.81436,0.81595,0.81754],"format":".5f","grid":true,"labelFontSize":15,"labelPadding":9,"tickSize":0}}}},
{"data":{"name":"title"},"mark":{"type":"rect","color":"#e9e9e9"},
 "encoding":{"x":{"field":"m1","type":"quantitative","scale":{"domain":[468.5,1314],"nice":false,"zero":false},"axis":null},"x2":{"field":"m2"},"y":{"field":"p1","type":"quantitative","scale":{"domain":[0.80976,0.81843],"nice":false,"zero":false},"axis":null},"y2":{"field":"p2"}}},
{"data":{"name":"title"},"mark":{"type":"text","font":"Liberation Sans","fontWeight":"bold","fontSize":16,"color":"#666666","align":"left","baseline":"middle"},
 "encoding":{"x":{"field":"m","type":"quantitative","scale":{"domain":[468.5,1314],"nice":false,"zero":false},"axis":null},"y":{"field":"p","type":"quantitative","scale":{"domain":[0.80976,0.81843],"nice":false,"zero":false},"axis":null},"text":{"field":"t"}}},
{"data":{"name":"candles"},"mark":{"type":"rule","strokeWidth":1.2,"clip":true},
 "encoding":{"x":{"field":"m","type":"quantitative","scale":{"domain":[468.5,1314],"nice":false,"zero":false},"axis":null},"y":{"field":"l","type":"quantitative","scale":{"domain":[0.80976,0.81843],"nice":false,"zero":false},"axis":null},"y2":{"field":"h"},
  "color":{"condition":{"test":"datum.c >= datum.o","value":"#0b7a0b"},"value":"#000000"}}},
{"data":{"name":"candles"},"mark":{"type":"bar","size":4,"strokeWidth":0.8,"clip":true},
 "encoding":{"x":{"field":"m","type":"quantitative","scale":{"domain":[468.5,1314],"nice":false,"zero":false},"axis":null},"y":{"field":"o","type":"quantitative","scale":{"domain":[0.80976,0.81843],"nice":false,"zero":false},"axis":null},"y2":{"field":"c"},
  "color":{"condition":{"test":"datum.c >= datum.o","value":"#0b7a0b"},"value":"#000000"},
  "stroke":{"condition":{"test":"datum.c >= datum.o","value":"#0b7a0b"},"value":"#000000"}}},
{"data":{"name":"maB"},"mark":{"type":"line","color":"#000000","strokeWidth":2.5,"strokeJoin":"round","interpolate":"monotone","clip":true},
 "encoding":{"x":{"field":"m","type":"quantitative","scale":{"domain":[468.5,1314],"nice":false,"zero":false},"axis":null},"y":{"field":"p","type":"quantitative","scale":{"domain":[0.80976,0.81843],"nice":false,"zero":false},"axis":null}}},
{"data":{"name":"maR"},"mark":{"type":"line","color":"#ff4422","strokeWidth":2.5,"strokeJoin":"round","interpolate":"monotone","clip":true},
 "encoding":{"x":{"field":"m","type":"quantitative","scale":{"domain":[468.5,1314],"nice":false,"zero":false},"axis":null},"y":{"field":"p","type":"quantitative","scale":{"domain":[0.80976,0.81843],"nice":false,"zero":false},"axis":null}}},
{"data":{"name":"ptrendShadow"},"mark":{"type":"line","color":"#777777","strokeWidth":8,"opacity":0.22,"clip":true},
 "encoding":{"x":{"field":"m","type":"quantitative","scale":{"domain":[468.5,1314],"nice":false,"zero":false},"axis":null},"y":{"field":"p","type":"quantitative","scale":{"domain":[0.80976,0.81843],"nice":false,"zero":false},"axis":null},"detail":{"field":"id"}}},
{"data":{"name":"ptrend"},"mark":{"type":"line","color":"#ff0000","strokeWidth":4,"clip":true},
 "encoding":{"x":{"field":"m","type":"quantitative","scale":{"domain":[468.5,1314],"nice":false,"zero":false},"axis":null},"y":{"field":"p","type":"quantitative","scale":{"domain":[0.80976,0.81843],"nice":false,"zero":false},"axis":null},"detail":{"field":"id"}}},
{"data":{"name":"boxes"},"mark":{"type":"rect","fill":"#eeeeee","fillOpacity":0.85,"stroke":"#c4c4c4","strokeWidth":1},
 "encoding":{"x":{"field":"m1","type":"quantitative","scale":{"domain":[468.5,1314],"nice":false,"zero":false},"axis":null},"x2":{"field":"m2"},"y":{"field":"p1","type":"quantitative","scale":{"domain":[0.80976,0.81843],"nice":false,"zero":false},"axis":null},"y2":{"field":"p2"}}},
{"data":{"name":"labels"},"mark":{"type":"text","font":"DejaVu Sans","fontSize":16,"align":"left","baseline":"middle"},
 "encoding":{"x":{"field":"m","type":"quantitative","scale":{"domain":[468.5,1314],"nice":false,"zero":false},"axis":null},"y":{"field":"p","type":"quantitative","scale":{"domain":[0.80976,0.81843],"nice":false,"zero":false},"axis":null},"text":{"field":"t"},
  "color":{"condition":{"test":"datum.t == 'Sell'","value":"#e8302a"},"value":"#454545"}}},
{"data":{"name":"trades"},"mark":{"type":"line","strokeWidth":1.5,"clip":true},
 "encoding":{"x":{"field":"m","type":"quantitative","scale":{"domain":[468.5,1314],"nice":false,"zero":false},"axis":null},"y":{"field":"p","type":"quantitative","scale":{"domain":[0.80976,0.81843],"nice":false,"zero":false},"axis":null},"order":{"field":"o"},"detail":{"field":"id"},
  "color":{"field":"id","type":"nominal","scale":{"domain":["b1k","b1","b2k","b2","r3k","r3"],"range":["#4aa6e8","#4aa6e8","#4aa6e8","#4aa6e8","#ff3030","#ff3030"]},"legend":null}}},
{"data":{"name":"tradeEnds"},"mark":{"type":"point","shape":"circle","filled":false,"size":28,"strokeWidth":1.3},
 "encoding":{"x":{"field":"m","type":"quantitative","scale":{"domain":[468.5,1314],"nice":false,"zero":false},"axis":null},"y":{"field":"p","type":"quantitative","scale":{"domain":[0.80976,0.81843],"nice":false,"zero":false},"axis":null},
  "color":{"field":"id","type":"nominal","scale":{"domain":["b1","b2","r3"],"range":["#4aa6e8","#4aa6e8","#ff3030"]},"legend":null}}},
{"data":{"name":"vline"},"mark":{"type":"rule","color":"#1a1aff","strokeWidth":2.5,"strokeDash":[6,4],"clip":true},
 "encoding":{"x":{"field":"m","type":"quantitative","scale":{"domain":[468.5,1314],"nice":false,"zero":false},"axis":null},"y":{"field":"p1","type":"quantitative","scale":{"domain":[0.80976,0.81843],"nice":false,"zero":false},"axis":null},"y2":{"field":"p2"}}}
]
},
{
"width":1091,"height":162,
"resolve":{"scale":{"x":"independent","y":"independent"}},
"layer":[
{"data":{"name":"hist"},"mark":{"type":"bar","size":2,"clip":true},
 "encoding":{"x":{"field":"m","type":"quantitative","scale":{"domain":[468.5,1314],"nice":false,"zero":false},"axis":null},
  "y":{"field":"h","type":"quantitative","scale":{"domain":[-0.00089,0.001921],"nice":false,"zero":false},"axis":null},
  "y2":{"datum":0},
  "color":{"condition":{"test":"datum.h > 0","value":"#2f96ec"},"value":"#ff1f1f"}}},
{"data":{"name":"macd"},"mark":{"type":"line","strokeWidth":1.5,"strokeJoin":"round","interpolate":"monotone","clip":true},
 "encoding":{"x":{"field":"m","type":"quantitative","scale":{"domain":[468.5,1314],"nice":false,"zero":false},"axis":null},
  "y":{"field":"v","type":"quantitative","scale":{"domain":[-0.00099,0.00182],"nice":false,"zero":false},"title":null,
   "axis":{"orient":"right","values":[-0.00054,0.00025,0.00103,0.00182],"format":".5f","labelExpr":"replace(datum.label, '\u2212', '-')","grid":true,"labelFontSize":12,"labelPadding":9,"tickSize":0,
    "labelBaseline":{"condition":{"test":"datum.value > 0.0018","value":"top"},"value":"middle"}}},
  "color":{"field":"k","type":"nominal","scale":{"domain":["MACD","Signal"],"range":["#44a8f2","#ff3232"]},"legend":null}}},
{"data":{"name":"mtrendShadow"},"mark":{"type":"line","color":"#777777","strokeWidth":8,"opacity":0.22,"clip":true},
 "encoding":{"x":{"field":"m","type":"quantitative","scale":{"domain":[468.5,1314],"nice":false,"zero":false},"axis":null},"y":{"field":"v","type":"quantitative","scale":{"domain":[-0.00099,0.00182],"nice":false,"zero":false},"axis":null},"detail":{"field":"id"}}},
{"data":{"name":"mtrend"},"mark":{"type":"line","color":"#ff0000","strokeWidth":4,"clip":true},
 "encoding":{"x":{"field":"m","type":"quantitative","scale":{"domain":[468.5,1314],"nice":false,"zero":false},"axis":null},"y":{"field":"v","type":"quantitative","scale":{"domain":[-0.00099,0.00182],"nice":false,"zero":false},"axis":null},"detail":{"field":"id"}}},
{"data":{"name":"vline"},"mark":{"type":"rule","color":"#c6c6c6","strokeWidth":3,"clip":true},
 "encoding":{"y":{"field":"sep","type":"quantitative","scale":{"domain":[-0.00099,0.00182],"nice":false,"zero":false},"axis":null}}},
{"data":{"name":"vline"},"mark":{"type":"rule","color":"#1a1aff","strokeWidth":2.5,"strokeDash":[6,4],"clip":true},
 "encoding":{"x":{"field":"m","type":"quantitative","scale":{"domain":[468.5,1314],"nice":false,"zero":false},"axis":null},"y":{"field":"v1","type":"quantitative","scale":{"domain":[-0.00099,0.00182],"nice":false,"zero":false},"axis":null},"y2":{"field":"v2"}}}
]
},
{
"width":1091,"height":136,
"resolve":{"scale":{"x":"independent","y":"independent"}},
"layer":[
{"data":{"name":"cci"},"mark":{"type":"line","color":"#116e11","strokeWidth":2.5,"strokeJoin":"round","clip":true},
 "encoding":{"x":{"field":"m","type":"quantitative","scale":{"domain":[468.5,1314],"nice":false,"zero":false},"title":null,
   "axis":{"orient":"bottom","values":[570,690,810,930,1050,1170,1290],"labelExpr":"datum.value >= 1290 ? 'Led' : 'Led 14 ' + (datum.value < 600 ? '0' : '') + floor(datum.value / 60) + ':30'","labelAlign":"left","labelFontSize":16,"labelPadding":2,"ticks":true,"tickSize":8,"tickColor":"#dddddd","domain":true,"domainColor":"#ececec","grid":false}},
  "y":{"field":"v","type":"quantitative","scale":{"domain":[-332,366],"nice":false,"zero":false},"title":null,
   "axis":{"orient":"right","values":[-100,0,100],"format":".2f","labelExpr":"replace(datum.label, '\u2212', '-')","grid":true,"labelFontSize":15,"labelPadding":9,"tickSize":0}}}},
{"data":{"name":"vline"},"mark":{"type":"rule","color":"#1a1aff","strokeWidth":2.5,"strokeDash":[6,4],"clip":true},
 "encoding":{"x":{"field":"m","type":"quantitative","scale":{"domain":[468.5,1314],"nice":false,"zero":false},"axis":null},"y":{"field":"c1","type":"quantitative","scale":{"domain":[-332,366],"nice":false,"zero":false},"axis":null},"y2":{"field":"c2"}}}
]
}
]
}
